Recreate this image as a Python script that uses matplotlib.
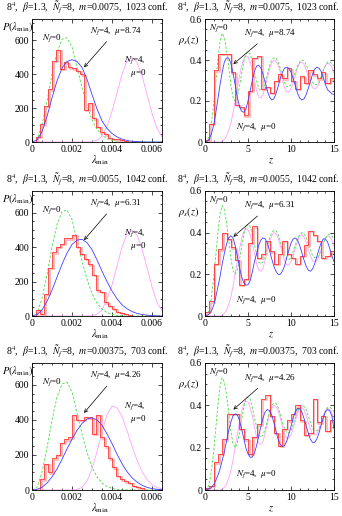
import numpy as np
import matplotlib
matplotlib.use("Agg")
import matplotlib.pyplot as plt
from matplotlib.ticker import MultipleLocator
import matplotlib.transforms as mtransforms

plt.rcParams['font.family'] = ['Liberation Serif', 'DejaVu Serif']
plt.rcParams['mathtext.fontset'] = 'stix'

# ---------------- data: left panels (P(lambda_min)) ----------------
lam_grid = [0, 0.00025, 0.0005, 0.00075, 0.001, 0.00125, 0.0015, 0.00175, 0.002,
            0.00225, 0.0025, 0.00275, 0.003, 0.00325, 0.0035, 0.00375, 0.004,
            0.00425, 0.0045, 0.00475, 0.005, 0.00525, 0.0055, 0.00575, 0.006,
            0.00625, 0.0065]
p_nf0 = [0, 15, 100, 240, 400, 530, 605, 615, 560, 440, 320, 215, 130, 75, 40, 20, 9,
         4, 2, 1, 0, 0, 0, 0, 0, 0, 0]
p_mu0_r1 = [0, 0, 0, 0, 0, 0, 0, 0, 0, 0, 0, 0, 2, 10, 35, 95, 180, 290, 400, 475, 500,
            470, 390, 280, 170, 80, 30]
p_mu0_r2 = [0, 0, 0, 0, 0, 0, 0, 0, 0, 0, 0, 0, 2, 10, 35, 95, 180, 290, 400, 475, 495,
            470, 390, 280, 170, 80, 30]
p_mu0_r3 = [0, 0, 0, 0, 0, 0, 0, 0, 0, 3, 15, 50, 120, 220, 330, 430, 480, 470, 420,
            340, 250, 170, 105, 60, 30, 14, 6]
p_mu_r1 = [0, 12, 60, 150, 260, 360, 435, 475, 485, 475, 440, 370, 280, 195, 125, 80,
           50, 30, 17, 9, 4, 2, 1, 0, 0, 0, 0]
p_mu_r2 = [0, 8, 35, 85, 150, 225, 300, 365, 415, 440, 445, 425, 385, 325, 260, 200,
           145, 100, 65, 42, 26, 15, 9, 5, 2, 1, 0]
p_mu_r3 = [0, 4, 15, 40, 75, 120, 175, 235, 290, 340, 380, 405, 412, 400, 370, 320,
           265, 205, 150, 105, 70, 45, 27, 15, 8, 4, 2]

lam_bin_edges = [0.0000, 0.0002, 0.0004, 0.0006, 0.0008, 0.0010, 0.0012, 0.0014,
                 0.0016, 0.0018, 0.0020, 0.0022, 0.0024, 0.0026, 0.0028, 0.0030,
                 0.0032, 0.0034, 0.0036, 0.0038, 0.0040, 0.0042, 0.0044, 0.0046,
                 0.0048, 0.0050, 0.0052, 0.0054, 0.0056]
hist_l_r1 = [0, 30, 105, 215, 310, 480, 545, 430, 470, 440, 435, 420, 400, 190, 230,
             140, 90, 60, 45, 25, 20, 15, 10, 5, 0, 0, 0, 0]
hist_l_r2 = [0, 35, 10, 130, 280, 370, 400, 420, 450, 450, 470, 400, 360, 330, 300,
             240, 150, 140, 80, 60, 40, 25, 20, 10, 5, 0, 0, 0]
hist_l_r3 = [0, 0, 60, 150, 100, 180, 200, 270, 290, 300, 430, 400, 400, 415, 415,
             320, 430, 300, 250, 180, 130, 80, 60, 50, 40, 25, 15, 10]

# ---------------- data: right panels (rho_s(z)) ----------------
z_grid = [0.0, 0.25, 0.5, 0.75, 1.0, 1.25, 1.5, 1.75, 2.0, 2.25, 2.5, 2.75, 3.0, 3.25,
          3.5, 3.75, 4.0, 4.25, 4.5, 4.75, 5.0, 5.25, 5.5, 5.75, 6.0, 6.25, 6.5, 6.75,
          7.0, 7.25, 7.5, 7.75, 8.0, 8.25, 8.5, 8.75, 9.0, 9.25, 9.5, 9.75, 10.0,
          10.25, 10.5, 10.75, 11.0, 11.25, 11.5, 11.75, 12.0, 12.25, 12.5, 12.75,
          13.0, 13.25, 13.5, 13.75, 14.0, 14.25, 14.5, 14.75, 15.0]
rho_nf0 = [0, 0.005, 0.03, 0.09, 0.18, 0.29, 0.40, 0.49, 0.53, 0.51, 0.45, 0.37, 0.28,
           0.22, 0.20, 0.22, 0.27, 0.33, 0.39, 0.43, 0.44, 0.43, 0.39, 0.34, 0.30, 0.26,
           0.25, 0.26, 0.29, 0.33, 0.37, 0.40, 0.41, 0.41, 0.39, 0.36, 0.32, 0.29, 0.27,
           0.27, 0.28, 0.31, 0.34, 0.37, 0.39, 0.40, 0.395, 0.38, 0.35, 0.32, 0.29,
           0.28, 0.28, 0.29, 0.32, 0.35, 0.37, 0.39, 0.39, 0.385, 0.37]
rho_mu0 = [0, 0, 0, 0, 0, 0, 0, 0, 0.004, 0.012, 0.028, 0.055, 0.09, 0.14, 0.20, 0.26,
           0.32, 0.37, 0.405, 0.42, 0.415, 0.39, 0.35, 0.30, 0.25, 0.22, 0.215, 0.23,
           0.27, 0.31, 0.355, 0.385, 0.40, 0.395, 0.375, 0.34, 0.30, 0.265, 0.245, 0.245,
           0.26, 0.29, 0.325, 0.36, 0.385, 0.39, 0.38, 0.355, 0.32, 0.29, 0.265, 0.26,
           0.265, 0.285, 0.315, 0.35, 0.375, 0.385, 0.38, 0.365, 0.335]
rho_mu_r1 = [0, 0.003, 0.015, 0.04, 0.08, 0.14, 0.21, 0.28, 0.34, 0.39, 0.41, 0.41,
             0.385, 0.34, 0.28, 0.22, 0.175, 0.15, 0.145, 0.16, 0.20, 0.25, 0.30, 0.345,
             0.37, 0.375, 0.36, 0.33, 0.29, 0.25, 0.22, 0.205, 0.21, 0.235, 0.27, 0.31,
             0.34, 0.36, 0.365, 0.36, 0.34, 0.31, 0.275, 0.24, 0.215, 0.205, 0.21, 0.23,
             0.26, 0.295, 0.33, 0.355, 0.365, 0.36, 0.345, 0.315, 0.28, 0.255, 0.245,
             0.235, 0.232]
rho_mu_r2 = [0, 0.003, 0.01, 0.025, 0.05, 0.09, 0.14, 0.19, 0.25, 0.30, 0.345, 0.375,
             0.385, 0.375, 0.34, 0.29, 0.235, 0.19, 0.16, 0.148, 0.15, 0.17, 0.21, 0.26,
             0.30, 0.34, 0.365, 0.375, 0.37, 0.35, 0.315, 0.275, 0.24, 0.215, 0.20,
             0.20, 0.215, 0.24, 0.28, 0.315, 0.35, 0.37, 0.375, 0.365, 0.34, 0.305, 0.27,
             0.24, 0.22, 0.215, 0.225, 0.25, 0.285, 0.32, 0.35, 0.37, 0.37, 0.355, 0.325,
             0.29, 0.26]
rho_mu_r3 = [0, 0.002, 0.005, 0.012, 0.025, 0.045, 0.07, 0.10, 0.14, 0.18, 0.23, 0.28,
             0.32, 0.35, 0.36, 0.355, 0.33, 0.29, 0.245, 0.20, 0.17, 0.155, 0.155, 0.175,
             0.21, 0.255, 0.30, 0.34, 0.37, 0.38, 0.375, 0.355, 0.32, 0.28, 0.24, 0.215,
             0.205, 0.21, 0.23, 0.265, 0.30, 0.34, 0.37, 0.385, 0.385, 0.37, 0.34, 0.305,
             0.27, 0.24, 0.225, 0.225, 0.24, 0.27, 0.305, 0.34, 0.37, 0.38, 0.375, 0.35,
             0.29]

z_bin_edges = [0.0, 0.5, 1.0, 1.5, 2.0, 2.5, 3.0, 3.5, 4.0, 4.5, 5.0, 5.5, 6.0, 6.5,
               7.0, 7.5, 8.0, 8.5, 9.0, 9.5, 10.0, 10.5, 11.0, 11.5, 12.0, 12.5, 13.0,
               13.5, 14.0, 14.5, 15.0]
hist_r_r1 = [0.01, 0.09, 0.35, 0.43, 0.43, 0.43, 0.34, 0.18, 0.17, 0.13, 0.25, 0.41,
             0.42, 0.26, 0.27, 0.24, 0.30, 0.33, 0.31, 0.36, 0.30, 0.26, 0.32, 0.29,
             0.35, 0.33, 0.31, 0.34, 0.29, 0.31]
hist_r_r2 = [0.02, 0.07, 0.25, 0.32, 0.40, 0.37, 0.33, 0.27, 0.15, 0.18, 0.35, 0.43,
             0.28, 0.30, 0.36, 0.31, 0.25, 0.30, 0.36, 0.30, 0.28, 0.25, 0.29, 0.34,
             0.41, 0.39, 0.36, 0.28, 0.29, 0.31]
hist_r_r3 = [0.01, 0.02, 0.13, 0.17, 0.24, 0.36, 0.36, 0.36, 0.29, 0.24, 0.17, 0.25,
             0.31, 0.43, 0.45, 0.35, 0.27, 0.21, 0.29, 0.33, 0.36, 0.40, 0.33, 0.26,
             0.27, 0.43, 0.32, 0.35, 0.28, 0.33]

masses = ["0.0075", "0.0055", "0.00375"]
confs = ["1023", "1042", "703"]
mus = ["8.74", "6.31", "4.26"]

# ---------------- figure ----------------
W, H = 342, 516
fig = plt.figure(figsize=(W / 100, H / 100), dpi=100)
rows_px = [(19, 142), (191, 316), (363, 490)]
left_px = (32, 162)
right_px = (205, 334)

RED = '#ff3030'
PALE = '#ffb8b8'
GREEN = '#44dd44'
BLUE = '#4040ff'
PINK = '#ffa0ff'
FS = 7


def add_ax(xpx, ypx):
    return fig.add_axes([xpx[0] / W, 1 - ypx[1] / H,
                         (xpx[1] - xpx[0]) / W, (ypx[1] - ypx[0]) / H])


def style(ax):
    ax.tick_params(which='both', direction='in', top=True, right=True,
                   labelsize=FS, pad=2)
    ax.tick_params(which='major', length=3, width=0.5)
    ax.tick_params(which='minor', length=1.6, width=0.5)
    for s in ax.spines.values():
        s.set_linewidth(0.6)


def step_hist(ax, edges, vals):
    e = np.array(edges)
    v = np.array(vals)
    xs = np.repeat(e, 2)[1:-1]
    ys = np.repeat(v, 2)
    xs = np.concatenate([[e[0]], xs, [e[-1]]])
    ys = np.concatenate([[0], ys, [0]])
    shifted = mtransforms.offset_copy(ax.transData, fig=fig, x=1.2, y=-1.0,
                                      units='points')
    ax.plot(xs, ys, color=PALE, lw=1.3, transform=shifted)
    ax.plot(xs, ys, color=RED, lw=0.6)


left_data = [(hist_l_r1, p_mu_r1, p_mu0_r1), (hist_l_r2, p_mu_r2, p_mu0_r2),
             (hist_l_r3, p_mu_r3, p_mu0_r3)]
right_data = [(hist_r_r1, rho_mu_r1), (hist_r_r2, rho_mu_r2), (hist_r_r3, rho_mu_r3)]

for i, (ytop, ybot) in enumerate(rows_px):
    title = (r"8$^4$,  $\beta$=1.3,  $\tilde{N}_f$=8,  $m$=" + masses[i] +
             ",  " + confs[i] + " conf.")
    # ---- left ----
    ax = add_ax(left_px, (ytop, ybot))
    hl, pmu, pmu0 = left_data[i]
    ax.plot(lam_grid, pmu0, color=PINK, lw=0.6)
    ax.plot(lam_grid, p_nf0, color=GREEN, lw=0.6, ls=(0, (3, 2)))
    step_hist(ax, lam_bin_edges, hl)
    ax.plot(lam_grid, pmu, color=BLUE, lw=0.6)
    ax.set_xlim(0, 0.0065)
    ax.set_ylim(0, 725)
    ax.set_xticks([0, 0.002, 0.004, 0.006])
    ax.set_xticklabels(["0", "0.002", "0.004", "0.006"])
    ax.set_yticks([0, 200, 400, 600])
    ax.xaxis.set_minor_locator(MultipleLocator(0.0005))
    ax.yaxis.set_minor_locator(MultipleLocator(50))
    style(ax)
    ax.text(0.0005, 615, r"$N_f$=0", fontsize=FS - 0.5, va='center')
    ax.annotate(r"$N_f$=4,  $\mu$=" + mus[i], xy=(0.0026, 440),
                xytext=(0.0029, 655), fontsize=FS - 0.5, va='center',
                arrowprops=dict(arrowstyle='->', lw=0.5, color='k',
                                shrinkA=2, shrinkB=0, mutation_scale=6))
    ax.text(0.0046, 480, r"$N_f$=4,", fontsize=FS - 0.5, va='center')
    ax.text(0.0049, 405, r"$\mu$=0", fontsize=FS - 0.5, va='center')
    fig.text(87 / W, 1 - (ytop - 12) / H, title, fontsize=FS, ha='center',
             va='center')
    fig.text(2 / W, 1 - (ytop + 8) / H, r"$P(\lambda_{\rm min})$", fontsize=FS + 0.5,
             ha='left', va='center')
    fig.text(100 / W, 1 - (ybot + 18) / H, r"$\lambda_{\rm min}$", fontsize=FS + 0.5,
             ha='center', va='center')

    # ---- right ----
    ax = add_ax(right_px, (ytop, ybot))
    hr, rmu = right_data[i]
    ax.plot(z_grid, rho_mu0, color=PINK, lw=0.6)
    ax.plot(z_grid, rho_nf0, color=GREEN, lw=0.6, ls=(0, (3, 2)))
    step_hist(ax, z_bin_edges, hr)
    ax.plot(z_grid, rmu, color=BLUE, lw=0.6)
    ax.set_xlim(0, 15)
    ax.set_ylim(0, 0.6)
    ax.set_xticks([0, 5, 10, 15])
    ax.set_yticks([0, 0.2, 0.4, 0.6])
    ax.set_yticklabels(["0", "0.2", "0.4", "0.6"])
    ax.xaxis.set_minor_locator(MultipleLocator(1))
    ax.yaxis.set_minor_locator(MultipleLocator(0.05))
    style(ax)
    ax.text(0.45, 0.555, r"$N_f$=0", fontsize=FS - 0.5, va='center')
    ax.annotate(r"$N_f$=4,  $\mu$=" + mus[i], xy=(3.3, 0.38),
                xytext=(4.5, 0.53), fontsize=FS - 0.5, va='center',
                arrowprops=dict(arrowstyle='->', lw=0.5, color='k',
                                shrinkA=2, shrinkB=0, mutation_scale=6))
    ax.text(3.6, 0.075, r"$N_f$=4,  $\mu$=0", fontsize=FS - 0.5, va='center')
    fig.text(258 / W, 1 - (ytop - 12) / H, title, fontsize=FS, ha='center',
             va='center')
    fig.text(178 / W, 1 - (ytop + 21) / H, r"$\rho_s(z)$", fontsize=FS + 0.5,
             ha='left', va='center')
    fig.text(271 / W, 1 - (ybot + 19) / H, r"$z$", fontsize=FS + 0.5,
             ha='center', va='center')

fig.savefig("out.png", dpi=100)
